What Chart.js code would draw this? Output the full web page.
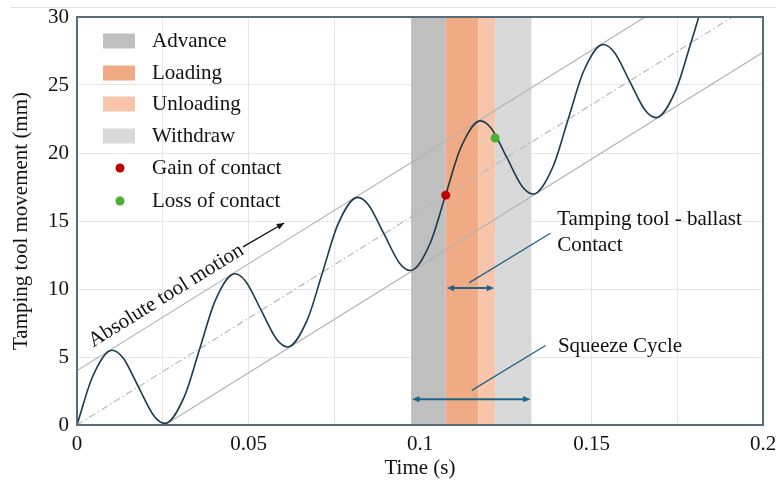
<!DOCTYPE html>
<html>
<head>
<meta charset="utf-8">
<script src="https://cdn.jsdelivr.net/npm/chart.js@4.4.1/dist/chart.umd.min.js"></script>
<style>
	body { margin: 0; background: #fff; }
	#wrap { width: 776px; height: 481px; position: relative; }
</style>
</head>
<body>
<div id="wrap"><canvas id="toolChart" width="776" height="481"></canvas></div>
<script>
// tool displacement curve (time in s, movement in mm)
var curveT = [0, 0.0045, 0.0102, 0.0134, 0.0179, 0.0224, 0.0256, 0.0313,
	0.0358, 0.0403, 0.0460, 0.0492, 0.0537, 0.0582, 0.0614, 0.0671,
	0.0716, 0.0761, 0.0818, 0.0850, 0.0895, 0.0940, 0.0972, 0.1029,
	0.1074, 0.1119, 0.1176, 0.1208, 0.1253, 0.1298, 0.1330, 0.1387,
	0.1432, 0.1477, 0.1534, 0.1566, 0.1611, 0.1656, 0.1688, 0.1745,
	0.1790, 0.1835, 0.1892];
var curveY = [0, 3.53, 5.50, 4.94, 2.81, 0.68, 0.12, 2.09,
	5.62, 9.15, 11.12, 10.56, 8.43, 6.30, 5.74, 7.71,
	11.24, 14.77, 16.74, 16.18, 14.05, 11.92, 11.36, 13.33,
	16.86, 20.39, 22.36, 21.80, 19.67, 17.54, 16.98, 18.95,
	22.48, 26.01, 27.98, 27.42, 25.29, 23.16, 22.60, 24.57,
	28.10, 31.63, 33.61];

// guide lines (start and end points)
var upperT = [0, 0.2];
var upperY = [4, 35.4];
var centerT = [0, 0.2];
var centerY = [0, 31.4];
var lowerT = [0.0256, 0.2];
var lowerY = [0, 27.4];

// phases of the squeeze cycle
var bandNames = ['Advance', 'Loading', 'Unloading', 'Withdraw'];
var bandStart = [0.0974, 0.1075, 0.1170, 0.1219];
var bandEnd = [0.1075, 0.1170, 0.1219, 0.1325];
var bandColors = ['#bfbfbf', '#f1ab84', '#f7c6aa', '#d9d9d9'];

// contact points
var pointNames = ['Gain of contact', 'Loss of contact'];
var pointT = [0.1075, 0.1219];
var pointY = [16.9, 21.1];
var pointColors = ['#c00000', '#4daf30'];

var xTicks = [0, 0.05, 0.1, 0.15, 0.2];
var yTicks = [0, 5, 10, 15, 20, 25, 30];

var serif = '"Liberation Serif", "Times New Roman", serif';

function toXY(ts, ys) {
	return ts.map(function(t, i) { return { x: t, y: ys[i] }; });
}

function arrowHead(ctx, x1, y1, x2, y2, size) {
	var a = Math.atan2(y2 - y1, x2 - x1);
	ctx.beginPath();
	ctx.moveTo(x2, y2);
	ctx.lineTo(x2 - size * Math.cos(a - 0.4), y2 - size * Math.sin(a - 0.4));
	ctx.lineTo(x2 - size * Math.cos(a + 0.4), y2 - size * Math.sin(a + 0.4));
	ctx.closePath();
	ctx.fill();
}

var bandPlugin = {
	id: 'bands',
	beforeDatasetsDraw: function(chart) {
		var ctx = chart.ctx, area = chart.chartArea, xs = chart.scales.x;
		ctx.save();
		for (var i = 0; i < bandNames.length; i++) {
			var x1 = xs.getPixelForValue(bandStart[i]);
			var x2 = xs.getPixelForValue(bandEnd[i]);
			ctx.fillStyle = bandColors[i];
			ctx.fillRect(x1, area.top, x2 - x1, area.bottom - area.top);
		}
		ctx.restore();
	},
	afterDatasetsDraw: function(chart) {
		var ctx = chart.ctx, area = chart.chartArea;
		var xs = chart.scales.x, ys = chart.scales.y;
		ctx.save();

		// frame
		ctx.strokeStyle = '#566d78';
		ctx.lineWidth = 2;
		ctx.strokeRect(area.left, area.top, area.right - area.left, area.bottom - area.top);

		// legend
		var rowY = [41, 73, 104, 136, 168, 201];
		ctx.font = '21px ' + serif;
		ctx.textBaseline = 'middle';
		ctx.textAlign = 'left';
		for (var i = 0; i < bandNames.length; i++) {
			ctx.fillStyle = bandColors[i];
			ctx.fillRect(103, rowY[i] - 7.5, 32, 15);
			ctx.fillStyle = '#111';
			ctx.fillText(bandNames[i], 152, rowY[i]);
		}
		for (var j = 0; j < pointNames.length; j++) {
			var ry = rowY[bandNames.length + j];
			ctx.fillStyle = pointColors[j];
			ctx.beginPath();
			ctx.arc(120, ry, 4.5, 0, Math.PI * 2);
			ctx.fill();
			ctx.fillStyle = '#111';
			ctx.fillText(pointNames[j], 152, ry);
		}

		// absolute tool motion label
		var cx = xs.getPixelForValue(0.026), cy = ys.getPixelForValue(9.5);
		ctx.save();
		ctx.translate(cx, cy);
		ctx.rotate(-31.8 * Math.PI / 180);
		ctx.textAlign = 'center';
		ctx.fillStyle = '#111';
		ctx.fillText('Absolute tool motion', 0, 0);
		ctx.restore();
		var ax1 = xs.getPixelForValue(0.0484), ay1 = ys.getPixelForValue(13.1);
		var ax2 = xs.getPixelForValue(0.0604), ay2 = ys.getPixelForValue(14.85);
		ctx.strokeStyle = '#111';
		ctx.fillStyle = '#111';
		ctx.lineWidth = 1.3;
		ctx.beginPath();
		ctx.moveTo(ax1, ay1);
		ctx.lineTo(ax2, ay2);
		ctx.stroke();
		arrowHead(ctx, ax1, ay1, ax2, ay2, 8);

		// contact / squeeze annotations
		ctx.fillStyle = '#111';
		ctx.textAlign = 'left';
		ctx.fillText('Tamping tool - ballast', xs.getPixelForValue(0.1400), ys.getPixelForValue(15.1));
		ctx.fillText('Contact', xs.getPixelForValue(0.1400), ys.getPixelForValue(13.2));
		ctx.fillText('Squeeze Cycle', xs.getPixelForValue(0.1402), ys.getPixelForValue(5.8));

		var blue = '#1f6486';
		ctx.strokeStyle = blue;
		ctx.fillStyle = blue;
		ctx.lineWidth = 1.3;
		var leaders = [[0.1380, 14.1, 0.1143, 10.45], [0.1366, 5.85, 0.1151, 2.55]];
		leaders.forEach(function(l) {
			ctx.beginPath();
			ctx.moveTo(xs.getPixelForValue(l[0]), ys.getPixelForValue(l[1]));
			ctx.lineTo(xs.getPixelForValue(l[2]), ys.getPixelForValue(l[3]));
			ctx.stroke();
		});
		ctx.lineWidth = 2;
		var spans = [[bandStart[1], bandEnd[2], 10.07], [bandStart[0], bandEnd[3], 1.9]];
		spans.forEach(function(s) {
			var x1 = xs.getPixelForValue(s[0]) + 1, x2 = xs.getPixelForValue(s[1]) - 1;
			var y = ys.getPixelForValue(s[2]);
			ctx.beginPath();
			ctx.moveTo(x1 + 4, y);
			ctx.lineTo(x2 - 4, y);
			ctx.stroke();
			arrowHead(ctx, x2 - 8, y, x2, y, 8);
			arrowHead(ctx, x1 + 8, y, x1, y, 8);
		});
		ctx.restore();
	},
	afterDraw: function(chart) {
		var ctx = chart.ctx;
		ctx.save();
		ctx.strokeStyle = '#e2e2e2';
		ctx.lineWidth = 1;
		ctx.beginPath();
		ctx.moveTo(10, 7.5);
		ctx.lineTo(776, 7.5);
		ctx.stroke();
		ctx.restore();
	}
};

var ctx = document.getElementById('toolChart').getContext('2d');
var toolChart = new Chart(ctx, {
	type: 'line',
	data: {
		datasets: [{
			label: 'Tool movement',
			data: toXY(curveT, curveY),
			borderColor: '#1d3a4a',
			borderWidth: 1.6,
			pointRadius: 0,
			cubicInterpolationMode: 'monotone',
			order: 1
		}, {
			label: 'Contact points',
			data: toXY(pointT, pointY),
			showLine: false,
			pointRadius: 4.5,
			pointBorderWidth: 0,
			pointBackgroundColor: pointColors,
			order: 0
		}, {
			label: 'Upper',
			data: toXY(upperT, upperY),
			borderColor: '#b3b3b3',
			borderWidth: 1.2,
			pointRadius: 0,
			order: 2
		}, {
			label: 'Center',
			data: toXY(centerT, centerY),
			borderColor: '#b8b8b8',
			borderWidth: 1.2,
			borderDash: [7, 3, 1.5, 3],
			pointRadius: 0,
			order: 2
		}, {
			label: 'Lower',
			data: toXY(lowerT, lowerY),
			borderColor: '#b3b3b3',
			borderWidth: 1.2,
			pointRadius: 0,
			order: 2
		}]
	},
	options: {
		responsive: false,
		animation: false,
		layout: { padding: { top: 17, right: 13, left: 0, bottom: 0 } },
		plugins: {
			legend: { display: false },
			tooltip: { enabled: false }
		},
		scales: {
			x: {
				type: 'linear',
				min: 0,
				max: 0.2,
				afterFit: function(scale) {
					scale.height = 56;
					scale.paddingLeft = 0;
					scale.paddingRight = 0;
				},
				afterBuildTicks: function(scale) {
					var t = [];
					for (var i = 0; i <= 8; i++) t.push({ value: i * 0.025 });
					scale.ticks = t;
				},
				grid: { color: '#e6e6e6', lineWidth: 1, drawTicks: false },
				border: { display: false },
				ticks: {
					autoSkip: false,
					maxRotation: 0,
					padding: 7,
					color: '#111',
					font: { family: serif, size: 21 },
					callback: function(v) {
						var r = Math.round(v * 1000) / 1000;
						return xTicks.indexOf(r) >= 0 ? String(r) : '';
					}
				},
				title: {
					display: true,
					text: 'Time (s)',
					color: '#111',
					font: { family: serif, size: 21 },
					padding: { top: 0, bottom: 0 }
				}
			},
			y: {
				min: 0,
				max: 30,
				afterFit: function(scale) {
					scale.width = 77;
					scale.paddingTop = 0;
					scale.paddingBottom = 0;
				},
				afterBuildTicks: function(scale) {
					scale.ticks = yTicks.map(function(v) { return { value: v }; });
				},
				grid: { color: '#e6e6e6', lineWidth: 1, drawTicks: false },
				border: { display: false },
				ticks: {
					padding: 8,
					color: '#111',
					font: { family: serif, size: 21 }
				},
				title: {
					display: true,
					text: 'Tamping tool movement (mm)',
					color: '#111',
					font: { family: serif, size: 21 },
					padding: { top: 9, bottom: 0 }
				}
			}
		}
	},
	plugins: [bandPlugin]
});
</script>
</body>
</html>
